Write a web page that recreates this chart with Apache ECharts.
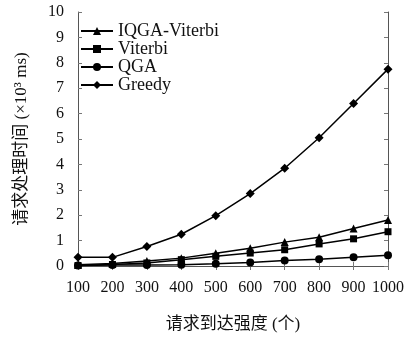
<!DOCTYPE html>
<html><head><meta charset="utf-8">
<script src="https://cdn.jsdelivr.net/npm/echarts@6/dist/echarts.min.js"></script>
<style>html,body{margin:0;padding:0;background:#fff}#c{width:410px;height:338px}</style>
</head><body><div id="c"></div>
<script>
var xs = [100,200,300,400,500,600,700,800,900,1000];
var xTicks = ['100','200','300','400','500','600','700','800','900','1000'];
var iqga   = [0.05,0.10,0.20,0.31,0.50,0.70,0.94,1.13,1.48,1.81];
var viterbi= [0.02,0.06,0.12,0.25,0.38,0.51,0.64,0.87,1.07,1.35];
var qga    = [0.02,0.04,0.04,0.05,0.09,0.14,0.22,0.27,0.34,0.42];
var greedy = [0.34,0.34,0.77,1.25,1.98,2.85,3.85,5.05,6.40,7.75];
var names = ['IQGA-Viterbi','Viterbi','QGA','Greedy'];
var symbols = ['triangle','rect','circle','diamond'];
var sizes = [8,7,8,9];
var vals = [iqga,viterbi,qga,greedy];
var serif = '"Liberation Serif"';
var cjk = '"Liberation Serif","Noto Sans CJK SC"';
var chart = echarts.init(document.getElementById('c'));
var series = vals.map(function(v,i){
  return {name:names[i],type:'line',data:xs.map(function(x,j){return [x,v[j]];}),
    symbol:symbols[i],symbolSize:sizes[i],showSymbol:true,
    lineStyle:{color:'#000',width:1.5},itemStyle:{color:'#000'},z:3};
});
var axLine = {show:true,lineStyle:{color:'#555',width:1}};
var tick = {show:true,inside:true,length:4,lineStyle:{color:'#777'}};
chart.setOption({
  animation:false,
  grid:{left:78,right:22,top:12,bottom:70,show:false},
  legend:{left:80,top:22,orient:'vertical',itemGap:0,itemWidth:32,itemHeight:10,padding:0,
    textStyle:{fontFamily:serif,fontSize:18,lineHeight:17,color:'#111'},
    data:names},
  xAxis:[{type:'value',min:100,max:1000,interval:100,position:'bottom',
    axisLine:axLine,axisTick:tick,splitLine:{show:false},
    axisLabel:{fontFamily:serif,fontSize:16,color:'#111',margin:14,
      formatter:function(v){return xTicks[xs.indexOf(v)];}},
    name:'请求到达强度 (个)',nameLocation:'middle',nameGap:50,
    nameTextStyle:{fontFamily:cjk,fontSize:17,color:'#111'}},
   {type:'value',min:100,max:1000,interval:100,position:'top',
    axisLine:axLine,axisTick:tick,axisLabel:{show:false},splitLine:{show:false}}],
  yAxis:[{type:'value',min:0,max:10,interval:1,position:'left',
    axisLine:axLine,axisTick:tick,splitLine:{show:false},
    axisLabel:{fontFamily:serif,fontSize:16,color:'#111',margin:14},
    name:'请求处理时间 (×10³ ms)',nameLocation:'middle',nameGap:48,
    nameTextStyle:{fontFamily:cjk,fontSize:17,color:'#111'}},
   {type:'value',min:0,max:10,interval:1,position:'right',
    axisLine:axLine,axisTick:tick,axisLabel:{show:false},splitLine:{show:false}}],
  series:series
});
</script></body></html>
